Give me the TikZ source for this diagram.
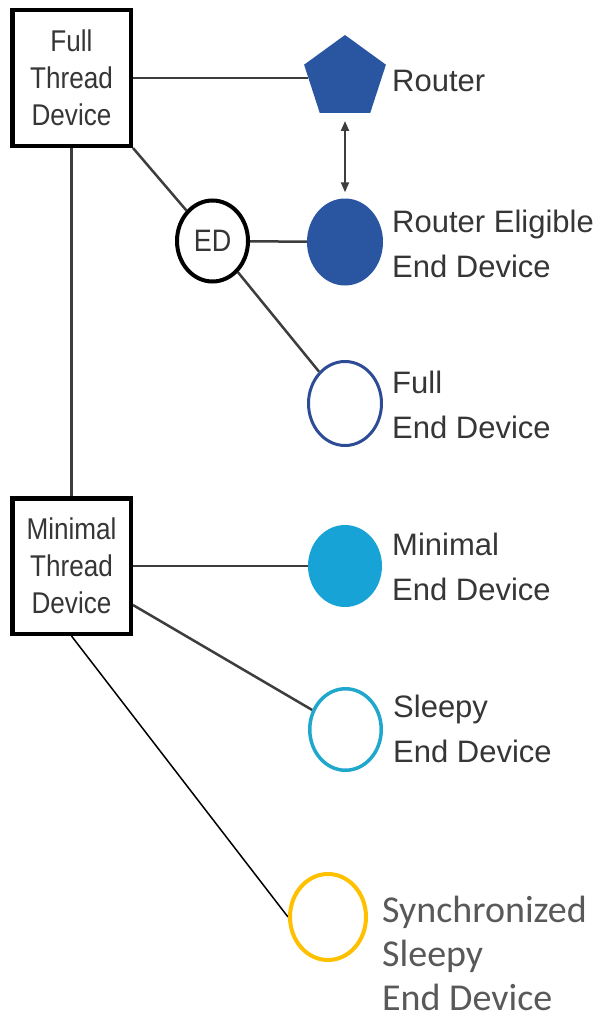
\documentclass[tikz,border=0pt]{standalone}
\usepackage{fontspec}
\setmainfont{Liberation Sans}
\newfontfamily\boxfont[FakeStretch=0.87]{Liberation Sans}
\newfontfamily\calfont{Carlito}
\usetikzlibrary{shapes.geometric,arrows.meta,backgrounds}

\definecolor{txtgray}{HTML}{363636}
\definecolor{wire}{HTML}{3D3D3D}
\definecolor{navy}{HTML}{2A55A1}
\definecolor{ringnavy}{HTML}{2E4B96}
\definecolor{cyanfill}{HTML}{18A3D6}
\definecolor{cyanring}{HTML}{20A8CC}
\definecolor{amber}{HTML}{FFC000}
\definecolor{calgray}{HTML}{595959}

\tikzset{
  devbox/.style={draw=black, line width=4.5pt, fill=white, minimum width=118.5pt,
    minimum height=135.5pt, inner sep=0pt, align=center, text=txtgray,
    font=\boxfont\fontsize{30}{37}\selectfont},
  blob/.style={ellipse, inner sep=0pt},
  % anchored at the baseline of the last line
  label/.style={anchor=base west, align=left, inner sep=0pt, text=txtgray,
    font=\fontsize{31}{44.5}\selectfont},
  wireline/.style={draw=wire, line width=2.5pt},
}

\begin{document}
\begin{tikzpicture}[x=1pt, y=-1pt]
\useasboundingbox (0,0) rectangle (609,1025);

% thread device classes
\node[devbox] (ftd) at (71.5,78) {Full\\Thread\\Device};
\node[devbox] (mtd) at (71.5,566) {Minimal\\Thread\\Device};

% end device hub
\node[blob, draw=black, line width=4pt, fill=white, minimum width=71pt, minimum height=81pt,
  text=txtgray, font=\boxfont\fontsize{31}{31}\selectfont] (ed) at (212.5,241) {ED};

% device roles
\node[regular polygon, regular polygon sides=5, minimum size=86pt, inner sep=0pt,
  fill=navy] (router) at (345,78) {};
\node[blob, fill=navy, minimum width=76pt, minimum height=87pt] (reed) at (345,242) {};
\node[blob, draw=ringnavy, line width=3pt, fill=white, minimum width=73pt,
  minimum height=84pt] (fed) at (345,403.5) {};
\node[blob, fill=cyanfill, minimum width=74pt, minimum height=82pt] (med) at (345,566) {};
\node[blob, draw=cyanring, line width=3.5pt, fill=white, minimum width=71.5pt,
  minimum height=81.5pt] (sed) at (345.5,729.5) {};
\node[blob, draw=amber, line width=4pt, fill=white, minimum width=76pt,
  minimum height=86pt] (sync) at (328,917) {};

% role names
\node[label] (routerlbl) at (392,92) {Router};
\node[label] (reedlbl) at (392,277) {Router Eligible\\End Device};
\node[label] (fedlbl) at (392,438) {Full\\End Device};
\node[label] (medlbl) at (392,600) {Minimal\\End Device};
\node[label] (sedlbl) at (393,762) {Sleepy\\End Device};
\node[label, text=calgray, font=\calfont\fontsize{38}{44}\selectfont] (synclbl)
  at (382,1010) {Synchronized\\Sleepy\\End Device};

% white page and connectors, kept behind the shapes
\begin{scope}[on background layer]
\fill[white] (0,0) rectangle (609,1025);
\path[wireline] (ftd) -- (mtd);
\path[wireline] (ftd) -- (router);
\path[wireline] (ftd.south east) -- (ed);
\path[wireline] (ed) -- (reed);
\path[wireline] (ed) -- (fed);
\path[wireline] (mtd) -- (med);
\path[wireline] ([yshift=-39pt]mtd.east) -- (sed);
\draw[black, line width=1.5pt] (mtd.south) -- (sync.west);
\end{scope}
\draw[wire, line width=2pt, {Triangle[length=10pt,width=8pt]}-{Triangle[length=10pt,width=8pt]},
  shorten <=8pt, shorten >=6pt] (router.south) -- (reed.north);
\end{tikzpicture}
\end{document}
